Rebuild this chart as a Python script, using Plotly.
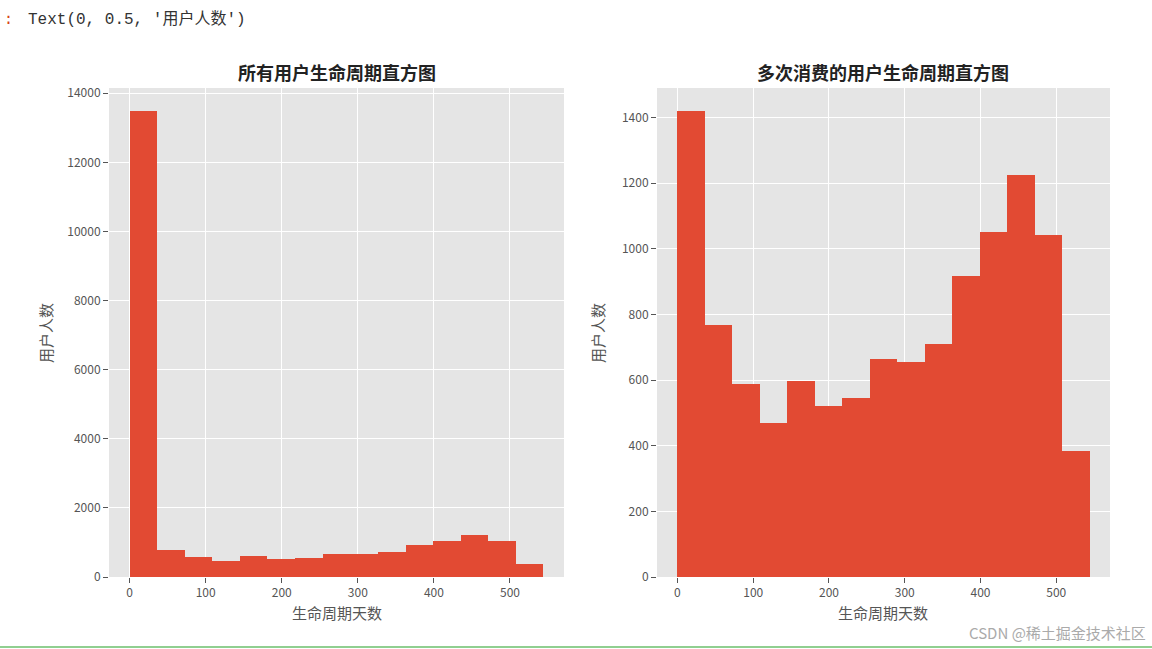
import plotly.graph_objects as go

# lifetime histogram, 15 bins over 0..544 days
bin_edges = [0, 36.3, 72.5, 108.8, 145.1, 181.3, 217.6, 253.9, 290.1,
             326.4, 362.7, 398.9, 435.2, 471.5, 507.7, 544]
all_users = [13480, 768, 588, 470, 596, 522, 545, 664, 656,
             710, 918, 1050, 1224, 1042, 384]
multi_users = [1421, 768, 588, 470, 596, 522, 545, 664, 656,
               710, 918, 1050, 1224, 1042, 384]

titles = ['所有用户生命周期直方图', '多次消费的用户生命周期直方图']
x_title = '生命周期天数'
y_title = '用户人数'
x_ticks = [0, 100, 200, 300, 400, 500]
left_y_ticks = [0, 2000, 4000, 6000, 8000, 10000, 12000, 14000]
right_y_ticks = [0, 200, 400, 600, 800, 1000, 1200, 1400]

cjk = 'Noto Sans CJK SC'
bar_color = '#E24A33'
bg = '#E5E5E5'
tick_grey = '#555555'

centers = [(a + b) / 2 for a, b in zip(bin_edges[:-1], bin_edges[1:])]
widths = [b - a for a, b in zip(bin_edges[:-1], bin_edges[1:])]

fig = go.Figure()
fig.add_trace(go.Bar(x=centers, y=all_users, width=widths,
                     marker=dict(color=bar_color, line=dict(width=0)),
                     xaxis='x', yaxis='y', showlegend=False))
fig.add_trace(go.Bar(x=centers, y=multi_users, width=widths,
                     marker=dict(color=bar_color, line=dict(width=0)),
                     xaxis='x2', yaxis='y2', showlegend=False))

W, H = 1152, 649
left_dom = [109 / W, 564 / W]
right_dom = [657 / W, 1110 / W]
y_dom = [1 - 577 / H, 1 - 88 / H]

# automargin off, otherwise tick labels nudge the margins and 'paper' shrinks
axis_common = dict(showgrid=True, gridcolor='white', gridwidth=1.2,
                   zeroline=False, showline=False, ticks='outside',
                   ticklen=5, tickcolor=tick_grey, tickformat='d',
                   automargin=False,
                   tickfont=dict(family=cjk, size=12, color=tick_grey))

fig.update_layout(
    width=W, height=H,
    margin=dict(l=0, r=0, t=0, b=0),
    paper_bgcolor='white',
    plot_bgcolor=bg,
    bargap=0,
    xaxis=dict(domain=left_dom, range=[-27, 571], tickvals=x_ticks,
               anchor='y', **axis_common),
    yaxis=dict(domain=y_dom, range=[0, 14150], tickvals=left_y_ticks,
               anchor='x', **axis_common),
    xaxis2=dict(domain=right_dom, range=[-27, 571], tickvals=x_ticks,
                anchor='y2', **axis_common),
    yaxis2=dict(domain=y_dom, range=[0, 1490], tickvals=right_y_ticks,
                anchor='x2', **axis_common),
)

annotations = []
for dom, title in zip([left_dom, right_dom], titles):
    mid = (dom[0] + dom[1]) / 2
    annotations.append(dict(x=mid, y=1 - 72 / H, xref='paper', yref='paper',
                            xanchor='center', yanchor='middle',
                            text='<b>' + title + '</b>', showarrow=False,
                            font=dict(family=cjk, size=18, color='#222222')))
    annotations.append(dict(x=mid, y=1 - 612 / H, xref='paper', yref='paper',
                            xanchor='center', yanchor='middle',
                            text=x_title, showarrow=False,
                            font=dict(family=cjk, size=15, color=tick_grey)))

for xpx in [45, 597]:
    annotations.append(dict(x=xpx / W, y=1 - 333 / H, xref='paper', yref='paper',
                            xanchor='center', yanchor='middle',
                            text=y_title, showarrow=False, textangle=-90,
                            font=dict(family=cjk, size=15, color=tick_grey)))

# jupyter output line above the figure
annotations.append(dict(x=2 / W, y=1 - 19 / H, xref='paper', yref='paper',
                        xanchor='left', yanchor='middle', text=':', showarrow=False,
                        font=dict(family='DejaVu Sans Mono', size=15, color='#D84315')))
annotations.append(dict(x=26 / W, y=1 - 19 / H, xref='paper', yref='paper',
                        xanchor='left', yanchor='middle',
                        text="Text(0, 0.5, '用户人数')", showarrow=False,
                        font=dict(family='Liberation Mono, ' + cjk, size=16, color='#333333')))

# watermark
annotations.append(dict(x=1148 / W, y=1 - 632 / H, xref='paper', yref='paper',
                        xanchor='right', yanchor='middle',
                        text='CSDN @稀土掘金技术社区', showarrow=False,
                        font=dict(family=cjk, size=15, color='#AAAAAA')))

fig.update_layout(annotations=annotations)

fig.add_shape(type='line', xref='paper', yref='paper',
              x0=0, x1=1, y0=1 - 647 / H, y1=1 - 647 / H,
              line=dict(color='#6BBF6B', width=1.5))

# drop the default page margin so the figure fills the window exactly
page_js = ("document.body.style.margin='0';"
           "document.body.style.overflow='hidden';")
fig.write_html("out.html", config={'displayModeBar': False},
               post_script=page_js)
